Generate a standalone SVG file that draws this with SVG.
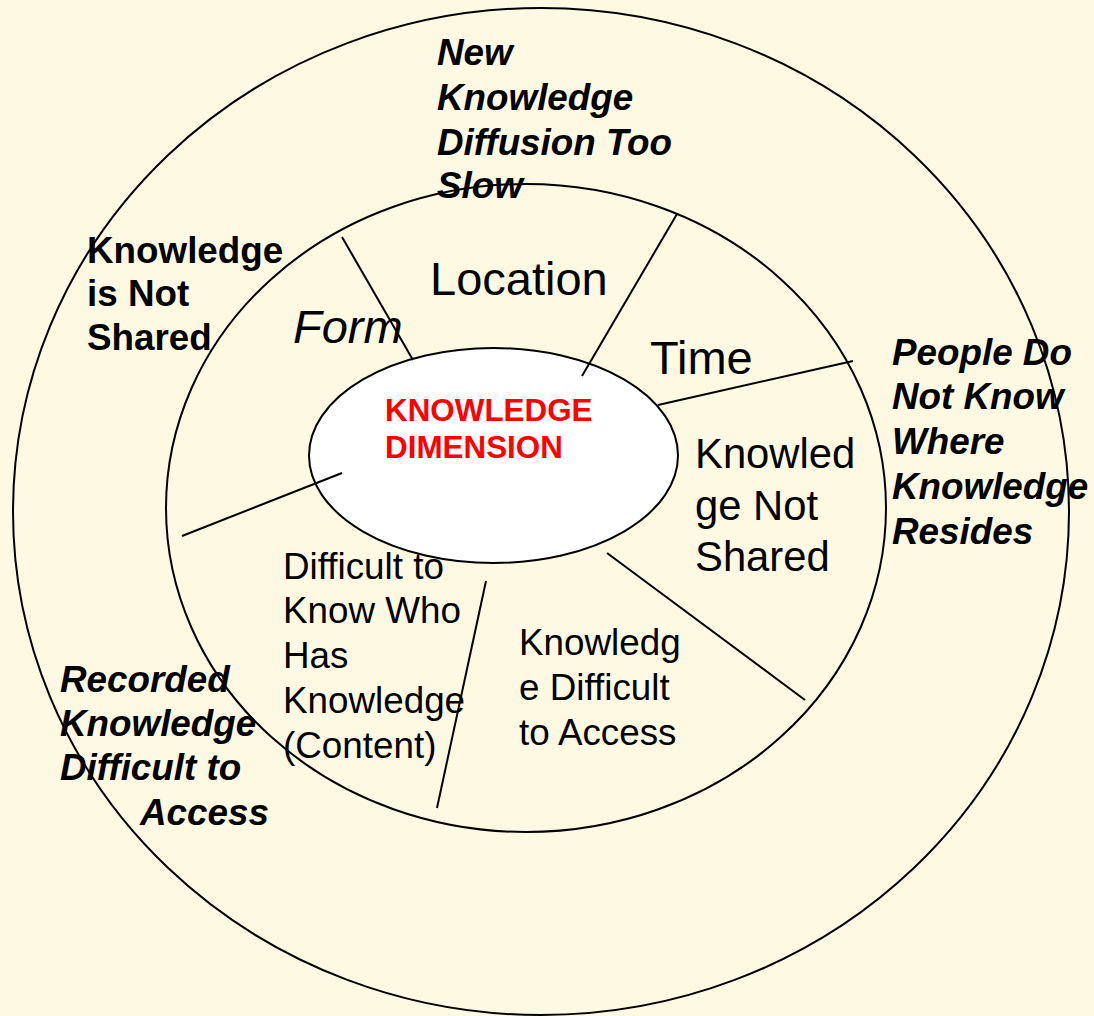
<svg xmlns="http://www.w3.org/2000/svg" width="1094" height="1016" viewBox="0 0 1094 1016">
  <style>
    .ring { fill: none; stroke: #000; stroke-width: 2; }
    .core { fill: #fff; stroke: #000; stroke-width: 2; }
    .div { stroke: #000; stroke-width: 2; fill: none; }
    .dim { font-family: "Liberation Sans", Arial, sans-serif; font-size: 47px; fill: #000; }
    .seg { font-family: "Liberation Sans", Arial, sans-serif; font-size: 36.8px; fill: #000; }
    .issue { font-family: "Liberation Sans", Arial, sans-serif; font-size: 36.8px; font-weight: bold; fill: #000; }
    .it { font-style: italic; }
    .title { font-family: "Liberation Sans", Arial, sans-serif; font-size: 31.4px; font-weight: bold; fill: #ff0000; }
  </style>
  <rect x="0" y="0" width="1094" height="1016" fill="#fdf9e3"/>

  <!-- outer ring -->
  <g id="outer-ring">
    <ellipse class="ring" cx="541" cy="511.5" rx="528" ry="503.5"/>
  </g>

  <!-- inner ring -->
  <g id="inner-ring">
    <ellipse class="ring" cx="526" cy="508" rx="360" ry="324"/>
  </g>

  <!-- centre ellipse -->
  <g id="knowledge-dimension">
    <ellipse class="core" cx="493.5" cy="455.5" rx="184.5" ry="107.5"/>
    <text class="title" x="385" y="421">KNOWLEDGE</text>
    <text class="title" x="385" y="458">DIMENSION</text>
  </g>

  <!-- sector dividers, drawn over the centre ellipse -->
  <g id="connectors">
    <line class="div" x1="342" y1="237" x2="413" y2="360"/>
    <line class="div" x1="677" y1="214" x2="582" y2="376"/>
    <line class="div" x1="853" y1="361" x2="658" y2="405"/>
    <line class="div" x1="607" y1="553" x2="805" y2="700"/>
    <line class="div" x1="486" y1="581" x2="437" y2="808"/>
    <line class="div" x1="182" y1="536" x2="342" y2="473"/>
  </g>

  <!-- sectors of the inner ring -->
  <g id="form">
    <text class="dim it" x="293" y="343">Form</text>
  </g>
  <g id="location">
    <text class="dim" x="430" y="295">Location</text>
  </g>
  <g id="time">
    <text class="dim" x="650" y="374">Time</text>
  </g>
  <g id="knowledge-not-shared">
    <text class="seg" style="font-size:41.8px">
      <tspan x="695" y="468">Knowled</tspan>
      <tspan x="695" y="520">ge Not</tspan>
      <tspan x="695" y="571">Shared</tspan>
    </text>
  </g>
  <g id="knowledge-difficult-to-access">
    <text class="seg">
      <tspan x="519" y="655">Knowledg</tspan>
      <tspan x="519" y="700">e Difficult</tspan>
      <tspan x="519" y="745">to Access</tspan>
    </text>
  </g>
  <g id="difficult-to-know-who">
    <text class="seg">
      <tspan x="283" y="579">Difficult to</tspan>
      <tspan x="283" y="623">Know Who</tspan>
      <tspan x="283" y="668">Has</tspan>
      <tspan x="283" y="713">Knowledge</tspan>
      <tspan x="283" y="758">(Content)</tspan>
    </text>
  </g>

  <!-- issues in the outer ring -->
  <g id="new-knowledge-diffusion">
    <text class="issue it">
      <tspan x="437" y="65">New</tspan>
      <tspan x="437" y="110">Knowledge</tspan>
      <tspan x="437" y="155">Diffusion Too</tspan>
      <tspan x="437" y="198">Slow</tspan>
    </text>
  </g>
  <g id="knowledge-is-not-shared">
    <text class="issue">
      <tspan x="87" y="263">Knowledge</tspan>
      <tspan x="87" y="306">is Not</tspan>
      <tspan x="87" y="350">Shared</tspan>
    </text>
  </g>
  <g id="people-do-not-know">
    <text class="issue it">
      <tspan x="892" y="365">People Do</tspan>
      <tspan x="892" y="409">Not Know</tspan>
      <tspan x="892" y="454">Where</tspan>
      <tspan x="892" y="499">Knowledge</tspan>
      <tspan x="892" y="544">Resides</tspan>
    </text>
  </g>
  <g id="recorded-knowledge">
    <text class="issue it">
      <tspan x="60" y="692">Recorded</tspan>
      <tspan x="60" y="736">Knowledge</tspan>
      <tspan x="60" y="780">Difficult to</tspan>
      <tspan x="140" y="825">Access</tspan>
    </text>
  </g>
</svg>
